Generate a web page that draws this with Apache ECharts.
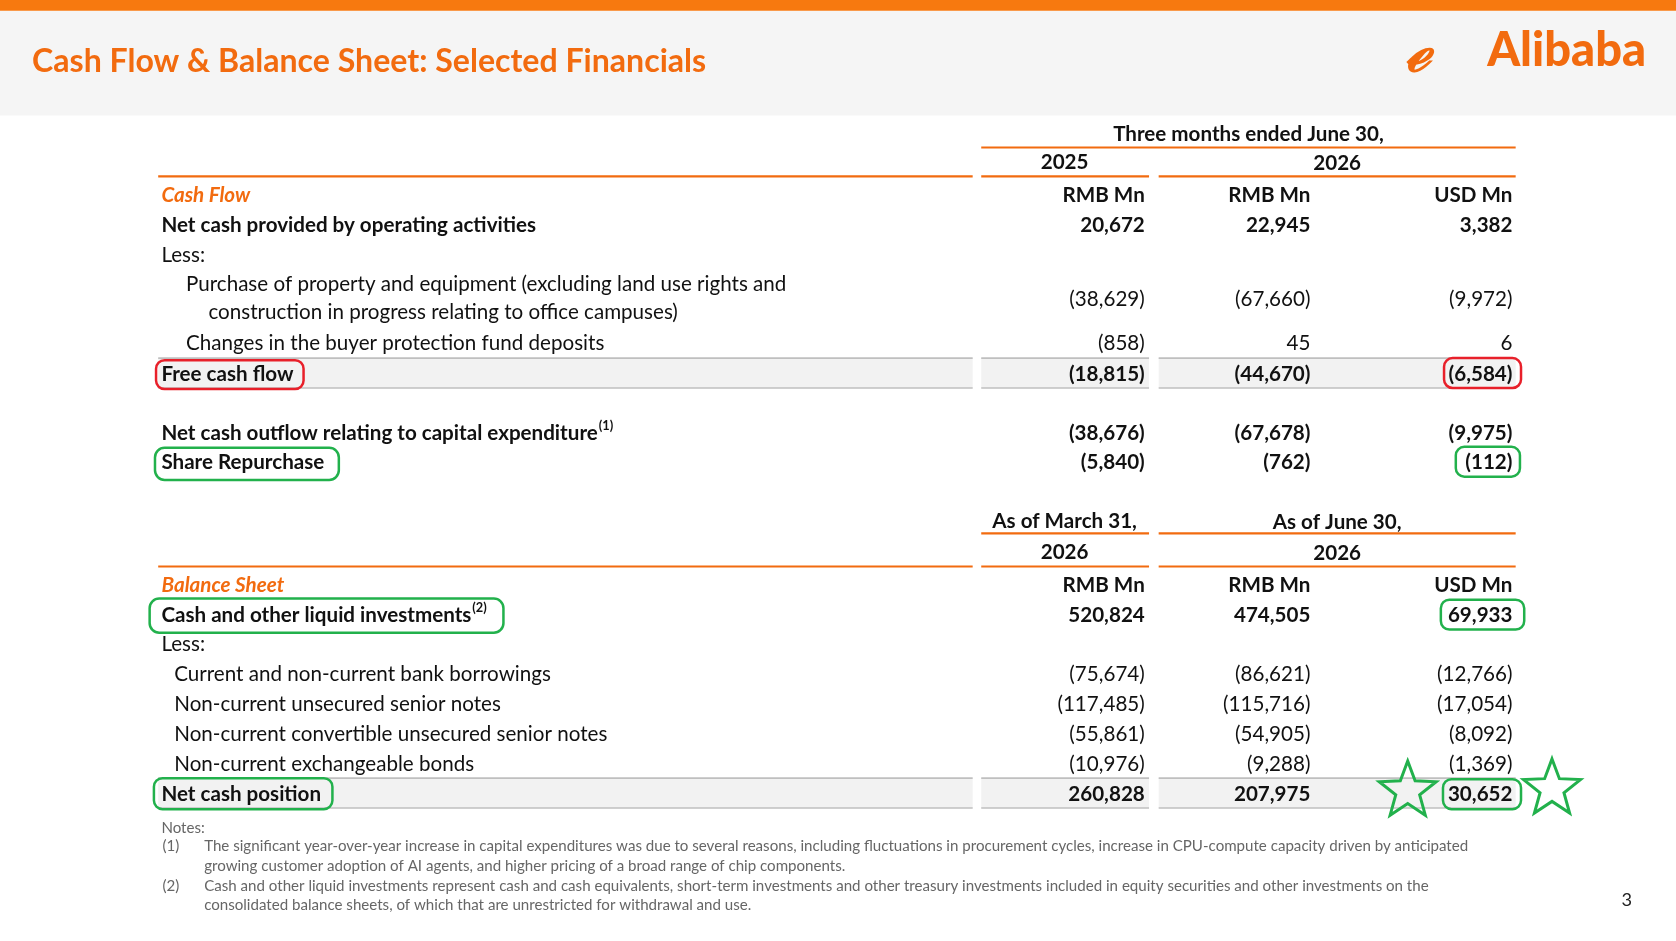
<!DOCTYPE html>
<html><head><meta charset="utf-8">
<script src="https://cdn.jsdelivr.net/npm/echarts@6/dist/echarts.min.js"></script>
<style>html,body{margin:0;padding:0;background:#fff}#c{width:1676px;height:941px}</style>
</head><body><div id="c"></div>
<script>
const title = "Cash Flow & Balance Sheet: Selected Financials";
const cfHeader = ["Three months ended June 30,", "2025", "2026"];
const unitLabels = ["RMB Mn", "RMB Mn", "USD Mn"];
const cfRows = [
  {label: "Net cash provided by operating activities", v: ["20,672", "22,945", "3,382"], bold: true, indent: 0},
  {label: "Less:", v: null, indent: 0},
  {label: "Purchase of property and equipment (excluding land use rights and", label2: "construction in progress relating to office campuses)", v: ["(38,629)", "(67,660)", "(9,972)"], indent: 23},
  {label: "Changes in the buyer protection fund deposits", v: ["(858)", "45", "6"], indent: 23},
  {label: "Free cash flow", v: ["(18,815)", "(44,670)", "(6,584)"], bold: true, band: true, indent: 0},
  {label: "Net cash outflow relating to capital expenditure", sup: "(1)", v: ["(38,676)", "(67,678)", "(9,975)"], bold: true, indent: 0},
  {label: "Share Repurchase", v: ["(5,840)", "(762)", "(112)"], bold: true, indent: 0}
];
const cfY = [210, 238, 279, 320, 349, 404, 432];
const bsHeader = ["As of March 31,", "As of June 30,", "2026", "2026"];
const bsRows = [
  {label: "Cash and other liquid investments", sup: "(2)", v: ["520,824", "474,505", "69,933"], bold: true, indent: 0},
  {label: "Less:", v: null, indent: 0},
  {label: "Current and non-current bank borrowings", v: ["(75,674)", "(86,621)", "(12,766)"], indent: 12},
  {label: "Non-current unsecured senior notes", v: ["(117,485)", "(115,716)", "(17,054)"], indent: 12},
  {label: "Non-current convertible unsecured senior notes", v: ["(55,861)", "(54,905)", "(8,092)"], indent: 12},
  {label: "Non-current exchangeable bonds", v: ["(10,976)", "(9,288)", "(1,369)"], indent: 12},
  {label: "Net cash position", v: ["260,828", "207,975", "30,652"], bold: true, band: true, indent: 0}
];
const bsY = [575, 602, 630, 658, 686, 714, 742];
const notes = [
  ["Notes:"],
  ["(1)", "The significant year-over-year increase in capital expenditures was due to several reasons, including fluctuations in procurement cycles, increase in CPU-compute capacity driven by anticipated", "growing customer adoption of AI agents, and higher pricing of a broad range of chip components."],
  ["(2)", "Cash and other liquid investments represent cash and cash equivalents, short-term investments and other treasury investments included in equity securities and other investments on the", "consolidated balance sheets, of which that are unrestricted for withdrawal and use."]
];

const S = 1676 / 1568;
const F = "Lato, 'Open Sans', sans-serif";
const OR = "#F26B0F", TXT = "#111";
const FS = 19.3;
const colR = [1071, 1226, 1415];
const els = [];
function rect(x, y, w, h, fill, stroke, r, lw) {
  els.push({type: 'rect', shape: {x: x*S, y: y*S, width: w*S, height: h*S, r: (r||0)*S},
    style: {fill: fill || 'none', stroke: stroke || null, lineWidth: lw || 1}});
}
function line(x1, y, x2, c, w) { rect(x1, y - (w||2)/2, x2 - x1, (w||2), c); }
function fnt(size, opt) {
  return (opt.italic ? 'italic ' : '') + (opt.bold ? (opt.weight || 'bold') + ' ' : '') + (size*S).toFixed(1) + 'px ' + F;
}
function text(t, x, y, size, opt) {
  opt = opt || {};
  const st = {text: t, fill: opt.color || TXT, font: fnt(size, opt),
    align: opt.align || 'left', verticalAlign: 'middle'};
  if (opt.rich) st.rich = opt.rich;
  els.push({type: 'text', x: x*S, y: y*S, style: st});
}
function star(cx, cy, R) {
  const pts = [];
  for (let i = 0; i < 10; i++) {
    const r = i % 2 ? R*0.42 : R, a = -Math.PI/2 + i*Math.PI/5;
    pts.push([(cx + r*Math.cos(a))*S, (cy + r*Math.sin(a))*S]);
  }
  els.push({type: 'polygon', shape: {points: pts}, style: {fill: 'none', stroke: '#22B14C', lineWidth: 3}});
}

// header
rect(0, 10, 1568, 98, '#F5F5F5');
rect(0, 0, 1568, 10, '#F7790F');
text(title, 30, 58, 30, {bold: true, color: OR});
text("Alibaba", 1540, 48, 44, {bold: true, weight: 900, color: OR, align: 'right'});
text("ℯ", 1326, 50, 52, {bold: true, weight: 900, color: OR, align: 'center', italic: true});

// cash flow header
text(cfHeader[0], 1168, 126, FS, {bold: true, align: 'center'});
line(918, 138, 1418, OR);
text(cfHeader[1], 996, 152, FS, {bold: true, align: 'center'});
text(cfHeader[2], 1251, 153, FS, {bold: true, align: 'center'});
function sectionLines(y) { line(148, y, 910, OR); line(918, y, 1075, OR); line(1084, y, 1418, OR); }
sectionLines(165);
text("Cash Flow", 151, 183, FS, {italic: true, bold: true, color: OR});
unitLabels.forEach((u, i) => text(u, colR[i], 183, FS, {bold: true, align: 'right'}));

function drawRows(rows, ys) {
  rows.forEach((r, k) => {
    const y = ys[k];
    if (r.band) {
      [[148, 910], [918, 1075], [1084, 1418]].forEach(([a, b]) => {
        rect(a, y - 14, b - a, 28, '#F2F2F2');
        line(a, y - 14, b, '#BFBFBF', 1.5); line(a, y + 14, b, '#BFBFBF', 1.5);
      });
    }
    if (r.label2) {
      text(r.label, 151 + r.indent, y - 13, FS, {bold: r.bold});
      text(r.label2, 195, y + 13, FS, {bold: r.bold});
    } else if (r.sup) {
      text(r.label + '{s|' + r.sup + '}', 151 + r.indent, y + 1, FS, {bold: r.bold,
        rich: {s: {font: fnt(12, {bold: true}), fill: TXT, verticalAlign: 'top', padding: [0, 0, 14 * S, 1]}}});
    } else {
      text(r.label, 151 + r.indent, y + 1, FS, {bold: r.bold});
    }
    if (r.v) r.v.forEach((v, i) => text(v, colR[i], y + 1, FS, {bold: r.bold, align: 'right'}));
  });
}
drawRows(cfRows, cfY);

// balance sheet header
text(bsHeader[0], 996, 488, FS, {bold: true, align: 'center'});
text(bsHeader[1], 1251, 489, FS, {bold: true, align: 'center'});
line(918, 499, 1075, OR); line(1084, 499, 1418, OR);
text(bsHeader[2], 996, 517, FS, {bold: true, align: 'center'});
text(bsHeader[3], 1251, 518, FS, {bold: true, align: 'center'});
sectionLines(530);
text("Balance Sheet", 151, 548, FS, {italic: true, bold: true, color: OR});
unitLabels.forEach((u, i) => text(u, colR[i], 548, FS, {bold: true, align: 'right'}));
drawRows(bsRows, bsY);

// highlights
const RED = '#E8202A', GRN = '#22B14C';
rect(146, 337, 138, 27, null, RED, 8, 2.5);
rect(1351, 335, 72, 28, null, RED, 8, 2.5);
rect(145, 419, 172, 30, null, GRN, 9, 2.5);
rect(1362, 418, 60, 28, null, GRN, 8, 2.5);
rect(140, 560, 331, 32, null, GRN, 9, 2.5);
rect(1348, 561, 78, 28, null, GRN, 8, 2.5);
rect(144, 728, 167, 29, null, GRN, 8, 2.5);
rect(1350, 729, 73, 28, null, GRN, 8, 2.5);
star(1317, 740, 28); star(1452, 738, 28);

// notes
const NS = 14.1, NC = '#666';
text(notes[0][0], 151, 775, NS, {color: NC});
text(notes[1][0], 152, 792, NS, {color: NC});
text(notes[1][1], 191, 792, NS, {color: NC});
text(notes[1][2], 191, 810, NS, {color: NC});
text(notes[2][0], 152, 829, NS, {color: NC});
text(notes[2][1], 191, 829, NS, {color: NC});
text(notes[2][2], 191, 847, NS, {color: NC});
text("3", 1517, 842, 17, {color: '#222'});

const chart = echarts.init(document.getElementById('c'));
chart.setOption({animation: false, backgroundColor: '#fff', graphic: {elements: els}});
</script></body></html>
